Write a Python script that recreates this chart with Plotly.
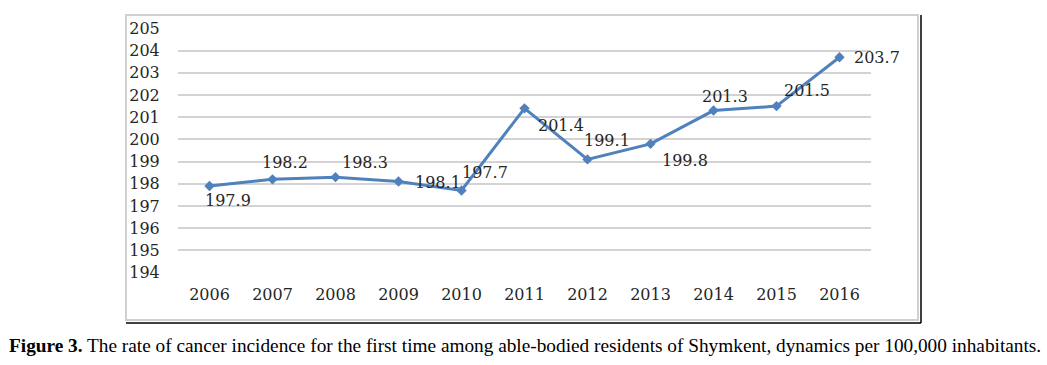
import plotly.graph_objects as go

years = ["2006", "2007", "2008", "2009", "2010", "2011", "2012", "2013", "2014", "2015", "2016"]
rates = [197.9, 198.2, 198.3, 198.1, 197.7, 201.4, 199.1, 199.8, 201.3, 201.5, 203.7]
y_ticks = [194, 195, 196, 197, 198, 199, 200, 201, 202, 203, 204, 205]

# label offsets in pixels (style only)
label_dx = [18, 12, 29, 39, 23, 36, 19, 34, 11, 30, 37]
label_dy = [-14, 17, 15, -1, 18, -17, 19, -17, 14, 16, 0]

W, H = 1047, 365
L, R, T, B = 178, 871, 28, 273  # plot area pixels

def px(x):
    return (x - L) / (R - L)

def py(y):
    return (B - y) / (B - T)

fig = go.Figure()
fig.add_trace(go.Scatter(
    x=years, y=rates, mode="lines+markers",
    line=dict(color="#4F81BD", width=3),
    marker=dict(symbol="diamond", size=8, color="#4F81BD"),
    hoverinfo="x+y",
))

for i, (v, dx, dy) in enumerate(zip(rates, label_dx, label_dy)):
    fig.add_annotation(x=i, y=v, xref="x", yref="y", text=f"{v}", showarrow=False,
                       xshift=dx, yshift=dy, xanchor="center", yanchor="middle",
                       font=dict(family="DejaVu Serif", size=16, color="#262626"))

# chart frame
fig.add_shape(type="rect", xref="paper", yref="paper",
              x0=px(126), x1=px(918), y0=py(320), y1=py(15),
              line=dict(color="#D0D0D4", width=2), layer="below")
fig.add_shape(type="line", xref="paper", yref="paper",
              x0=px(921), x1=px(921), y0=py(323), y1=py(15),
              line=dict(color="#000000", width=1.5))
fig.add_shape(type="line", xref="paper", yref="paper",
              x0=px(126), x1=px(921), y0=py(323), y1=py(323),
              line=dict(color="#000000", width=1.5))

fig.add_annotation(xref="paper", yref="paper", x=px(7), y=py(345),
                   xanchor="left", yanchor="middle", showarrow=False,
                   text="<b>Figure 3.</b> The rate of cancer incidence for the first time among able-bodied residents of Shymkent, dynamics per 100,000 inhabitants.",
                   font=dict(family="Liberation Serif", size=19.3, color="#000000"))

fig.update_layout(
    width=W, height=H,
    margin=dict(l=L, r=W - R, t=T, b=H - B),
    paper_bgcolor="white", plot_bgcolor="white",
    showlegend=False,
    font=dict(family="DejaVu Serif", size=16, color="#262626"),
    xaxis=dict(type="category", range=[-0.5, 10.5], showgrid=False, showline=False,
               zeroline=False, ticks="outside", ticklen=7, tickcolor="rgba(0,0,0,0)",
               tickfont=dict(family="DejaVu Serif", size=16, color="#262626")),
    yaxis=dict(range=[193.98, 205.02], tickvals=y_ticks, showgrid=True,
               gridcolor="#D3D3D6", gridwidth=2, zeroline=False, showline=False,
               ticks="outside", ticklen=14, tickcolor="rgba(0,0,0,0)",
               tickfont=dict(family="DejaVu Serif", size=16, color="#262626")),
)

fig.write_html("out.html", config={"displayModeBar": False},
               post_script="document.body.style.margin='0';")
